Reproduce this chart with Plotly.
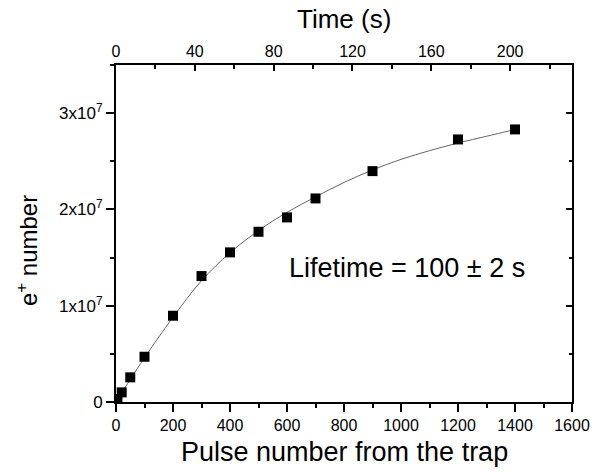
import plotly.graph_objects as go

# measured data (pulse number, e+ number)
pulses = [5, 20, 50, 100, 200, 300, 400, 500, 600, 700, 900, 1200, 1400]
counts = [0.3e6, 1.0e6, 2.56e6, 4.7e6, 8.96e6, 13.08e6, 15.54e6, 17.68e6,
          19.17e6, 21.14e6, 23.98e6, 27.27e6, 28.31e6]

# fit curve
fit_pulses = [0, 50, 100, 200, 300, 400, 500, 600, 700, 800, 900, 1000,
              1100, 1200, 1300, 1400]
fit_counts = [0, 2.35e6, 4.6e6, 8.8e6, 12.6e6, 15.5e6, 17.8e6, 19.7e6,
              21.3e6, 22.8e6, 24.1e6, 25.2e6, 26.1e6, 26.9e6, 27.6e6, 28.3e6]

y_tickvals = [0, 1e7, 2e7, 3e7]
y_ticktext = ["0", "1x10<sup>7</sup>", "2x10<sup>7</sup>", "3x10<sup>7</sup>"]
time_max = 231.4  # seconds at pulse 1600

FONT = "Liberation Sans, Arial, sans-serif"

fig = go.Figure()
fig.add_trace(go.Scatter(x=fit_pulses, y=fit_counts, mode="lines",
                         line=dict(color="#666666", width=1, shape="spline"),
                         hoverinfo="skip", showlegend=False))
fig.add_trace(go.Scatter(x=pulses, y=counts, mode="markers",
                         marker=dict(symbol="square", size=10, color="black"),
                         showlegend=False))
# invisible traces to anchor the secondary axes
fig.add_trace(go.Scatter(x=[0], y=[0], xaxis="x2", yaxis="y", mode="markers",
                         marker=dict(opacity=0), hoverinfo="skip", showlegend=False))
fig.add_trace(go.Scatter(x=[0], y=[0], xaxis="x", yaxis="y2", mode="markers",
                         marker=dict(opacity=0), hoverinfo="skip", showlegend=False))

ann_font = dict(family=FONT, color="black")
fig.add_annotation(x=0.375, y=0.398, xref="paper", yref="paper",
                   xanchor="left", yanchor="middle",
                   text="Lifetime = 100 ± 2 s", showarrow=False,
                   font=dict(size=27, **ann_font))
fig.add_annotation(x=0.5, y=0, xref="paper", yref="paper", yshift=-50,
                   xanchor="center", yanchor="middle",
                   text="Pulse number from the trap", showarrow=False,
                   font=dict(size=27, **ann_font))
fig.add_annotation(x=0.5, y=1, xref="paper", yref="paper", yshift=46,
                   xanchor="center", yanchor="middle",
                   text="Time (s)", showarrow=False,
                   font=dict(size=26, **ann_font))
fig.add_annotation(x=0, y=0.448, xref="paper", yref="paper", xshift=-89,
                   xanchor="center", yanchor="middle",
                   text="e<sup>+</sup> number", showarrow=False, textangle=-90,
                   font=dict(size=24, **ann_font))

common = dict(showline=True, linewidth=2, linecolor="black", showgrid=False,
              zeroline=False, tickcolor="black", tickwidth=1.5, automargin=False,
              ticklabeloverflow="allow")

fig.update_layout(
    width=594, height=472,
    margin=dict(l=116, r=22, t=65, b=70),
    paper_bgcolor="white", plot_bgcolor="white",
    font=dict(family=FONT, color="black", size=16),
    xaxis=dict(range=[0, 1600], dtick=200, tick0=0, ticks="outside", ticklen=8,
               minor=dict(dtick=100, ticks="outside", ticklen=4, tickcolor="black"),
               tickfont=dict(size=16), **common),
    xaxis2=dict(range=[0, time_max], overlaying="x", side="top", anchor="y",
                dtick=40, tick0=0, ticks="inside", ticklen=6,
                minor=dict(dtick=20, ticks="inside", ticklen=4, tickcolor="black"),
                tickfont=dict(size=16), **common),
    yaxis=dict(range=[0, 3.5e7], tickvals=y_tickvals, ticktext=y_ticktext,
               ticks="outside", ticklen=8,
               minor=dict(dtick=5e6, ticks="outside", ticklen=4, tickcolor="black"),
               tickfont=dict(size=17), **common),
    yaxis2=dict(range=[0, 3.5e7], overlaying="y", side="right", anchor="x",
                tickvals=y_tickvals, showticklabels=False, ticks="inside", ticklen=6,
                minor=dict(dtick=5e6, ticks="inside", ticklen=3, tickcolor="black"),
                **common),
)

fig.write_html("out.html", config={"displayModeBar": False},
               post_script="document.body.style.margin='0';")
